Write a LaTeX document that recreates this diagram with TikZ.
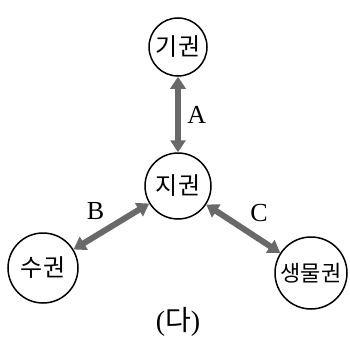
\documentclass[tikz,border=0pt]{standalone}
\usepackage{fontspec}
\newfontfamily\kofont{Noto Sans CJK KR}
\setmainfont{Liberation Serif}
\usetikzlibrary{arrows.meta, positioning}
\definecolor{arrgray}{RGB}{105,105,105}

\begin{document}
\begin{tikzpicture}[
  x=1pt, y=-1pt,
  sphere/.style={circle, draw, line width=1.5pt, inner sep=0pt,
                 font=\kofont\fontsize{24}{26}\selectfont},
  arr/.style={{Triangle[width=15pt,length=12pt]}-{Triangle[width=15pt,length=12pt]},
              line width=6pt, draw=arrgray, fill=arrgray},
  lbl/.style={text=black, font=\fontsize{26}{28}\selectfont}
]
  \useasboundingbox (0,0) rectangle (349,356);

  %% -- spheres
  \node[sphere, minimum size=58pt] (gi)  at (178,47)  {기권};
  \node[sphere, minimum size=66pt] (ji)  at (178,186) {지권};
  \node[sphere, minimum size=70pt] (su)  at (43,268)  {수권};
  \node[sphere, minimum size=72pt, font=\kofont\fontsize{22}{24}\selectfont] (sm) at (311,273) {생물권};

  %% -- connections
  \draw[arr] (gi) -- node[lbl, right=3pt] {A} (ji);
  \draw[arr] (ji) -- node[lbl, above left=1pt] {B} (su);
  \draw[arr] (ji) -- node[lbl, above right=1pt] {C} (sm);

  %% caption
  \node[font=\fontsize{28}{30}\selectfont] (cap) at (178,322) {({\kofont 다})};
\end{tikzpicture}
\end{document}
